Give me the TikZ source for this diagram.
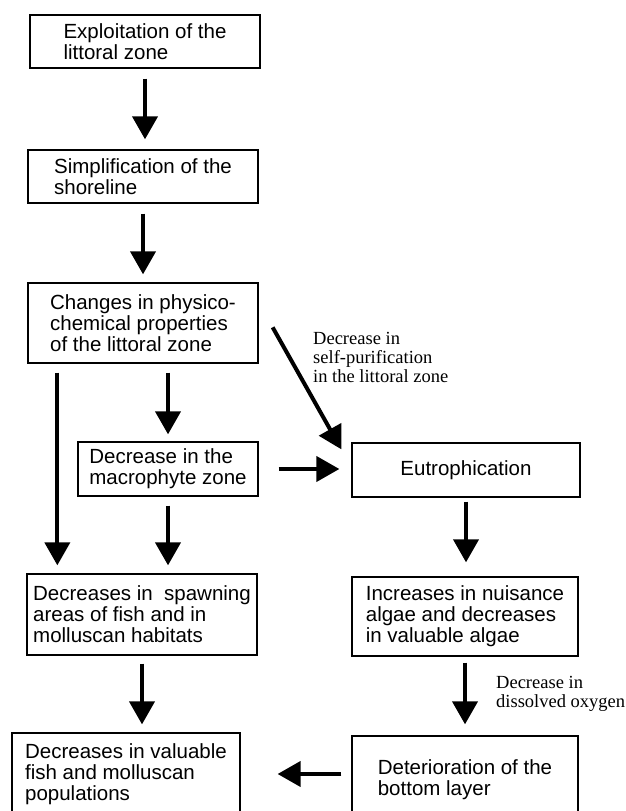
\documentclass[tikz,border=0pt]{standalone}
\usepackage{fontspec}
\setmainfont{Liberation Serif}
\setsansfont{Liberation Sans}
\usetikzlibrary{arrows.meta}
\tikzset{
    box/.style={
        draw,
        line width=1.3pt,
        align=left,
        inner sep=0pt,
        font=\sffamily\fontsize{20.5}{21}\selectfont,
        minimum width=230pt,
        minimum height=53pt
    },
    flow/.style={
        -{Triangle[width=25pt,length=23pt]},
        line width=4pt
    },
    note/.style={
        align=left,
        inner sep=0pt,
        font=\fontsize{18.5}{19}\selectfont
    }
}

\begin{document}
\begin{tikzpicture}[x=1pt,y=1pt]
  \useasboundingbox (0,0) rectangle (625,811);
  \clip (0,0) rectangle (625,811);

  \node[box] at (145,769.5) (Ex) {Exploitation of the\\littoral zone};
  \node[box] at (143,634.5) (Sh) {Simplification of the\\shoreline};
  \node[box,minimum height=80pt] at (143,488) (Ch) {Changes in physico-\\chemical properties\\of the littoral zone};
  \node[box,minimum width=180pt,minimum height=54pt] at (168,342) (Mac) {Decrease in the\\macrophyte zone};
  \node[box,minimum width=228pt,minimum height=54pt] at (466,341) (Eu) {Eutrophication};
  \node[box,minimum height=81pt] at (142,196.5) (Sp) {Decreases in\ \ spawning\\areas of fish and in\\molluscan habitats};
  \node[box,minimum width=226pt,minimum height=79pt] at (465,194.5) (Al) {Increases in nuisance\\algae and decreases\\in valuable algae};
  \node[box,minimum width=228pt,minimum height=82pt] at (126,37) (Fi) {Decreases in valuable\\fish and molluscan\\populations};
  \node[box,minimum width=226pt,minimum height=88pt] at (465,31) (Bo) {Deterioration of the\\bottom layer};

  \node[note,anchor=north west] at (313,479) (L1) {Decrease in\\self-purification\\in the littoral zone};
  \node[note,anchor=north west] at (496,135) (L2) {Decrease in\\dissolved oxygen};

  \draw[flow,shorten <=10pt,shorten >=10pt] (Ex.south) -- (Ex.south |- Sh.north);
  \draw[flow,shorten <=10pt,shorten >=8pt] (Sh.south) -- (Ch.north);
  \draw[flow,shorten <=9pt,shorten >=7pt] (Mac.north |- Ch.south) -- (Mac.north);
  \draw[flow,shorten <=9pt,shorten >=8pt] ([xshift=30pt]Ch.south west) -- ([xshift=30pt]Ch.south west |- Sp.north);
  \draw[flow,shorten <=9pt,shorten >=8pt] (Mac.south) -- (Mac.south |- Sp.north);
  \draw[flow] ([shift={(14pt,-45pt)}]Ch.north east) -- ([shift={(-10pt,-7pt)}]Eu.north west);
  \draw[flow,shorten <=20pt,shorten >=12pt] (Mac.east) -- (Mac.east -| Eu.west);
  \draw[flow,shorten <=4pt,shorten >=14pt] (Eu.south) -- (Eu.south |- Al.north);
  \draw[flow,shorten <=8pt,shorten >=8pt] (Sp.south) -- (Sp.south |- Fi.north);
  \draw[flow,shorten <=6pt,shorten >=11pt] (Al.south) -- (Al.south |- Bo.north);
  \draw[flow,shorten <=10pt,shorten >=37pt] (Bo.west |- Fi.east) -- (Fi.east);

\end{tikzpicture}
\end{document}
